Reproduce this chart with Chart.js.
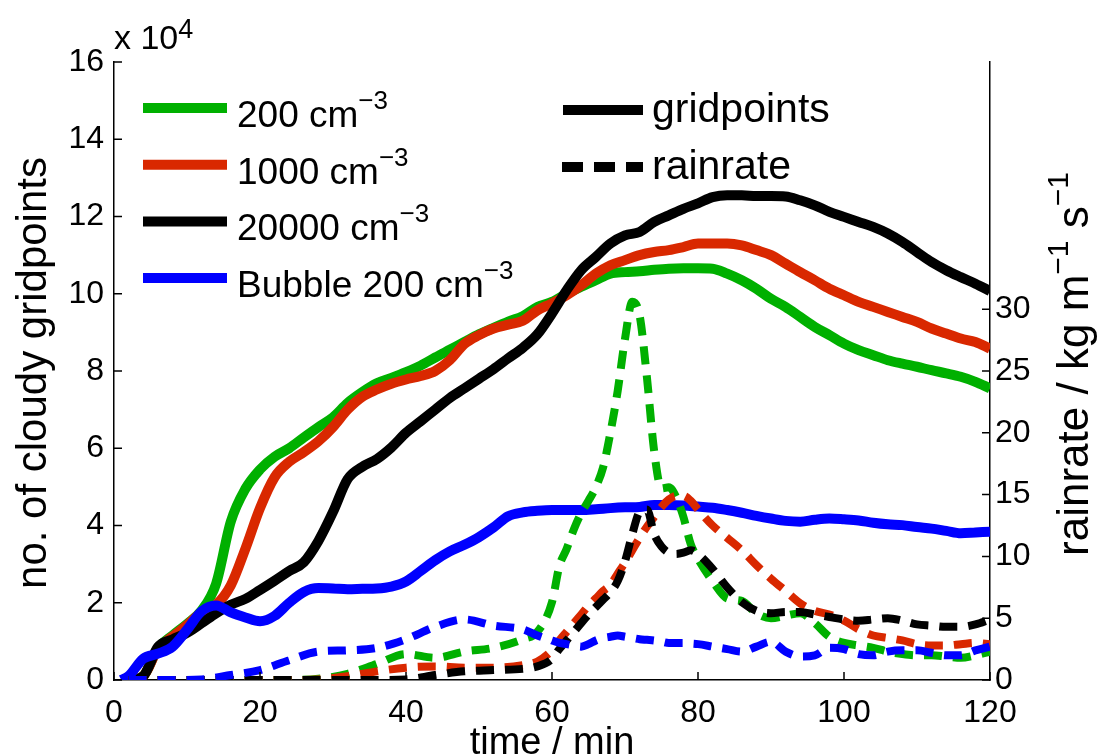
<!DOCTYPE html>
<html>
<head>
<meta charset="utf-8">
<script src="https://cdn.jsdelivr.net/npm/chart.js@4.4.1/dist/chart.umd.min.js"></script>
<style>
  html, body { margin: 0; padding: 0; background: #fff; }
  #wrap { width: 1101px; height: 756px; position: relative; }
</style>
</head>
<body>
<div id="wrap"><canvas id="myChart"></canvas></div>
<script>
// time of the gridpoint curves (min)
const minutes = [1, 2, 4, 6, 8, 10, 12, 14, 16, 18, 20, 22, 24, 26, 28, 30, 32, 34, 36, 38, 40,
  42, 44, 46, 48, 50, 52, 54, 56, 58, 60, 62, 64, 66, 68, 70, 72, 74, 76, 78, 80,
  82, 84, 86, 88, 90, 92, 94, 96, 98, 100, 102, 104, 106, 108, 110, 112, 114, 116, 118, 120];

// no. of cloudy gridpoints, in units of 10^4
const cloud200 = [0, 0, 0.1, 0.82, 1.15, 1.45, 1.8, 2.5, 4.1, 4.95, 5.45, 5.78, 6.0, 6.28, 6.55, 6.8, 7.17, 7.45, 7.68, 7.82, 7.97,
  8.14, 8.35, 8.55, 8.75, 8.95, 9.12, 9.28, 9.42, 9.66, 9.79, 10.0, 10.18, 10.35, 10.52, 10.56, 10.58, 10.62, 10.65, 10.66, 10.66,
  10.65, 10.52, 10.35, 10.13, 9.87, 9.66, 9.4, 9.14, 8.93, 8.71, 8.54, 8.41, 8.28, 8.19, 8.11, 8.02, 7.94, 7.85, 7.72, 7.55];
const cloud1000 = [0, 0, 0.1, 0.8, 1.12, 1.42, 1.75, 1.95, 2.45, 3.4, 4.45, 5.25, 5.65, 5.9, 6.18, 6.55, 7.0, 7.33, 7.52, 7.67, 7.78,
  7.87, 8.0, 8.28, 8.7, 8.93, 9.1, 9.2, 9.3, 9.57, 9.75, 9.96, 10.22, 10.52, 10.74, 10.87, 11.0, 11.08, 11.13, 11.21, 11.3,
  11.3, 11.3, 11.25, 11.13, 11.0, 10.78, 10.56, 10.35, 10.13, 9.96, 9.79, 9.66, 9.53, 9.4, 9.27, 9.1, 8.97, 8.84, 8.75, 8.58];
const cloud20000 = [0, 0, 0.1, 0.85, 1.05, 1.22, 1.47, 1.73, 1.95, 2.1, 2.33, 2.57, 2.82, 3.05, 3.6, 4.35, 5.2, 5.52, 5.72, 6.02, 6.4,
  6.7, 7.0, 7.3, 7.55, 7.8, 8.05, 8.33, 8.6, 8.95, 9.49, 10.09, 10.61, 10.95, 11.3, 11.51, 11.6, 11.86, 12.03, 12.2, 12.34,
  12.5, 12.55, 12.55, 12.53, 12.53, 12.52, 12.42, 12.29, 12.12, 11.99, 11.86, 11.73, 11.56, 11.34, 11.08, 10.82, 10.61, 10.43, 10.26, 10.07];
const cloudBubble = [0, 0.1, 0.55, 0.68, 0.86, 1.3, 1.78, 1.93, 1.75, 1.62, 1.52, 1.66, 2.0, 2.28, 2.38, 2.37, 2.35, 2.36, 2.37, 2.42, 2.55,
  2.82, 3.1, 3.33, 3.5, 3.7, 3.95, 4.24, 4.34, 4.38, 4.4, 4.4, 4.4, 4.42, 4.45, 4.47, 4.48, 4.53, 4.53, 4.52, 4.49,
  4.46, 4.4, 4.33, 4.25, 4.18, 4.12, 4.1, 4.15, 4.18, 4.16, 4.13, 4.07, 4.03, 4.01, 3.96, 3.92, 3.86, 3.8, 3.82, 3.84];

// time of the rain rate curves (min)
const rainMinutes = [2, 4, 8, 12, 16, 20, 24, 28, 32, 36, 40, 44, 48, 52, 56, 58, 60,
  61, 62, 63, 64, 65, 66, 67, 68, 69, 70, 71, 72, 73, 74, 75, 76, 77, 78, 79, 80,
  82, 84, 86, 88, 90, 92, 94, 96, 98, 100, 102, 104, 106, 108, 110, 112, 114, 116, 118, 120];

// rain rate, kg m^-1 s^-1
const rain200 = [0, 0, 0, 0, 0, 0, 0, 0.1, 0.5, 1.3, 2.1, 1.8, 2.3, 2.6, 3.3, 3.9, 6.3,
  9.2, 10.6, 12.2, 13.5, 14.5, 15.6, 17.2, 20, 23.4, 27.6, 30.6, 29.5, 24.5, 18.5, 15.5, 15.6, 14.8, 13.2, 11, 9.8,
  8.0, 6.6, 6.4, 5.4, 5.0, 5.2, 5.4, 4.6, 3.5, 3.0, 2.8, 2.6, 2.3, 2.1, 2.0, 2.0, 1.9, 1.8, 2.0, 2.3];
const rain1000 = [0, 0, 0, 0, 0, 0, 0, 0.05, 0.3, 0.7, 1.0, 1.1, 1.0, 1.0, 1.2, 1.5, 2.4,
  3.2, 3.9, 4.6, 5.3, 6.0, 6.6, 7.2, 7.7, 8.6, 9.5, 10.5, 11.5, 12.4, 13.2, 14.0, 14.6, 14.9, 14.9, 14.5, 13.8,
  12.5, 11.5, 10.5, 9.3, 8.2, 7.2, 6.2, 5.6, 5.3, 4.8, 4.1, 3.6, 3.4, 3.2, 2.9, 2.8, 2.8, 2.9, 3.0, 2.9];
const rain20000 = [0, 0, 0, 0, 0, 0, 0, 0, 0, 0, 0.05, 0.4, 0.7, 0.8, 0.9, 1.1, 1.7,
  2.5, 3.2, 3.9, 4.6, 5.3, 5.9, 6.5, 7.1, 8.0, 9.6, 11.8, 13.6, 13.8, 11.8, 10.8, 10.3, 10.2, 10.3, 10.5, 10.2,
  9.0, 7.5, 6.3, 5.6, 5.4, 5.5, 5.5, 5.3, 5.1, 4.9, 4.8, 4.9, 5.0, 4.8, 4.5, 4.4, 4.3, 4.3, 4.5, 4.9];
const rainBubble = [0, 0, 0, 0.05, 0.4, 0.8, 1.6, 2.3, 2.4, 2.6, 3.3, 4.3, 4.9, 4.4, 4.1, 3.6, 3.2,
  3.0, 2.9, 2.8, 2.7, 2.9, 3.2, 3.4, 3.5, 3.6, 3.5, 3.4, 3.3, 3.25, 3.2, 3.1, 3.0, 3.0, 3.0, 2.95, 2.9,
  2.7, 2.5, 2.3, 2.7, 3.1, 2.3, 1.9, 2.0, 2.6, 2.5, 2.1, 2.0, 2.3, 2.4, 2.4, 2.2, 2.0, 2.0, 2.4, 2.7];

const runNames = ['200', '1000', '20000', 'Bubble 200'];
const runColors = ['#00b000', '#d92800', '#000000', '#0000ff'];
const timeTicks = [0, 20, 40, 60, 80, 100, 120];

const FONT = '"Liberation Sans", Arial, Helvetica, sans-serif';
Chart.defaults.font.family = FONT;
Chart.defaults.color = '#000';

function pairs(xs, ys) {
  return xs.map((t, i) => ({ x: t, y: ys[i] }));
}

const cloudSeries = [cloud200, cloud1000, cloud20000, cloudBubble];
const rainSeries = [rain200, rain1000, rain20000, rainBubble];
const datasets = [];
cloudSeries.forEach((s, i) => datasets.push({
  label: runNames[i] + ' gridpoints', data: pairs(minutes, s), yAxisID: 'y',
  borderColor: runColors[i], borderWidth: 10, pointRadius: 0,
  cubicInterpolationMode: 'monotone', borderJoinStyle: 'round', order: 7 - i
}));
rainSeries.forEach((s, i) => datasets.push({
  label: runNames[i] + ' rainrate', data: pairs(rainMinutes, s), yAxisID: 'rain',
  borderColor: runColors[i], borderWidth: 8, borderDash: [18, 11], pointRadius: 0,
  cubicInterpolationMode: 'monotone', borderJoinStyle: 'round', order: 3 - i
}));

// text with superscripts: parts = [[text, isSup], ...]
function richText(ctx, parts, x, y, size, supSize, rise, align) {
  let w = 0;
  parts.forEach(p => {
    ctx.font = (p[1] ? supSize : size) + 'px ' + FONT;
    w += ctx.measureText(p[0]).width;
  });
  let cx = align === 'center' ? x - w / 2 : x;
  parts.forEach(p => {
    ctx.font = (p[1] ? supSize : size) + 'px ' + FONT;
    ctx.fillText(p[0], cx, p[1] ? y - rise : y);
    cx += ctx.measureText(p[0]).width;
  });
}

const decor = {
  id: 'decor',
  afterDraw(chart) {
    const ctx = chart.ctx;
    const { left, right, bottom } = chart.chartArea;
    const sx = chart.scales.x, sy = chart.scales.y, sr = chart.scales.rain;
    ctx.save();
    // inward tick marks
    ctx.strokeStyle = '#000';
    ctx.lineWidth = 1.5;
    ctx.beginPath();
    sx.ticks.forEach(t => { const p = sx.getPixelForValue(t.value); ctx.moveTo(p, bottom); ctx.lineTo(p, bottom - 8); });
    sy.ticks.forEach(t => { const p = sy.getPixelForValue(t.value); ctx.moveTo(left, p); ctx.lineTo(left + 8, p); });
    sr.ticks.forEach(t => { const p = sr.getPixelForValue(t.value); ctx.moveTo(right, p); ctx.lineTo(right - 8, p); });
    ctx.stroke();

    ctx.fillStyle = '#000';
    ctx.textBaseline = 'alphabetic';
    ctx.textAlign = 'left';
    // exponent label
    richText(ctx, [['x 10', false], ['4', true]], 114, 49, 34, 27, 11, 'left');
    // x title
    richText(ctx, [['time / min', false]], (left + right) / 2, 754, 38, 26, 17, 'center');
    // left title
    ctx.save();
    ctx.translate(46, 373);
    ctx.rotate(-Math.PI / 2);
    richText(ctx, [['no. of cloudy gridpoints', false]], 0, 0, 42, 29, 19, 'center');
    ctx.restore();
    // right title
    ctx.save();
    ctx.translate(1088, 364);
    ctx.rotate(-Math.PI / 2);
    richText(ctx, [['rainrate / kg m', false], ['\u22121', true], [' s', false], ['\u22121', true]], 0, 0, 44, 30, 20, 'center');
    ctx.restore();

    // legend of the runs
    ctx.lineCap = 'butt';
    runNames.forEach((name, i) => {
      const ly = 108 + i * 56.7;
      ctx.strokeStyle = runColors[i];
      ctx.lineWidth = 10;
      ctx.setLineDash([]);
      ctx.beginPath(); ctx.moveTo(143, ly); ctx.lineTo(227, ly); ctx.stroke();
      richText(ctx, [[name + ' cm', false], ['\u22123', true]], 237, ly + 19, 37, 26, 18, 'left');
    });
    // legend of the line styles
    ctx.strokeStyle = '#000';
    ctx.lineWidth = 10;
    ctx.setLineDash([]);
    ctx.beginPath(); ctx.moveTo(563, 110); ctx.lineTo(643, 110); ctx.stroke();
    ctx.setLineDash([21, 11]);
    ctx.beginPath(); ctx.moveTo(562, 167); ctx.lineTo(643, 167); ctx.stroke();
    ctx.setLineDash([]);
    richText(ctx, [['gridpoints', false]], 652, 122, 41, 28, 18, 'left');
    richText(ctx, [['rainrate', false]], 652, 179, 41, 28, 18, 'left');
    ctx.restore();
  }
};

const ctx = document.getElementById('myChart').getContext('2d');
new Chart(ctx, {
  type: 'line',
  data: { datasets: datasets },
  plugins: [decor],
  options: {
    responsive: true,
    maintainAspectRatio: false,
    animation: false,
    devicePixelRatio: 1,
    layout: { padding: { top: 62, left: 0, right: 0, bottom: 0 } },
    plugins: { legend: { display: false }, tooltip: { enabled: false } },
    scales: {
      x: {
        type: 'linear', min: 0, max: 120,
        afterBuildTicks: s => { s.ticks = timeTicks.map(v => ({ value: v })); },
        afterFit: s => { s.height = 76; },
        grid: { display: false, drawTicks: false },
        border: { display: true, color: '#000', width: 1.5 },
        ticks: { font: { size: 32 }, color: '#000', padding: 14, maxRotation: 0 }
      },
      y: {
        position: 'left', min: 0, max: 16,
        afterFit: s => { s.width = 114; },
        grid: { display: false, drawTicks: false },
        border: { display: true, color: '#000', width: 1.5 },
        ticks: { stepSize: 2, font: { size: 32 }, color: '#000', padding: 10 }
      },
      rain: {
        position: 'right', min: 0, max: 50,
        afterBuildTicks: s => { s.ticks = s.ticks.filter(t => t.value <= 30); },
        afterFit: s => { s.width = 111; },
        grid: { display: false, drawTicks: false },
        border: { display: true, color: '#000', width: 1.5 },
        ticks: { stepSize: 5, font: { size: 32 }, color: '#000', padding: 5 }
      }
    }
  }
});
</script>
</body>
</html>
